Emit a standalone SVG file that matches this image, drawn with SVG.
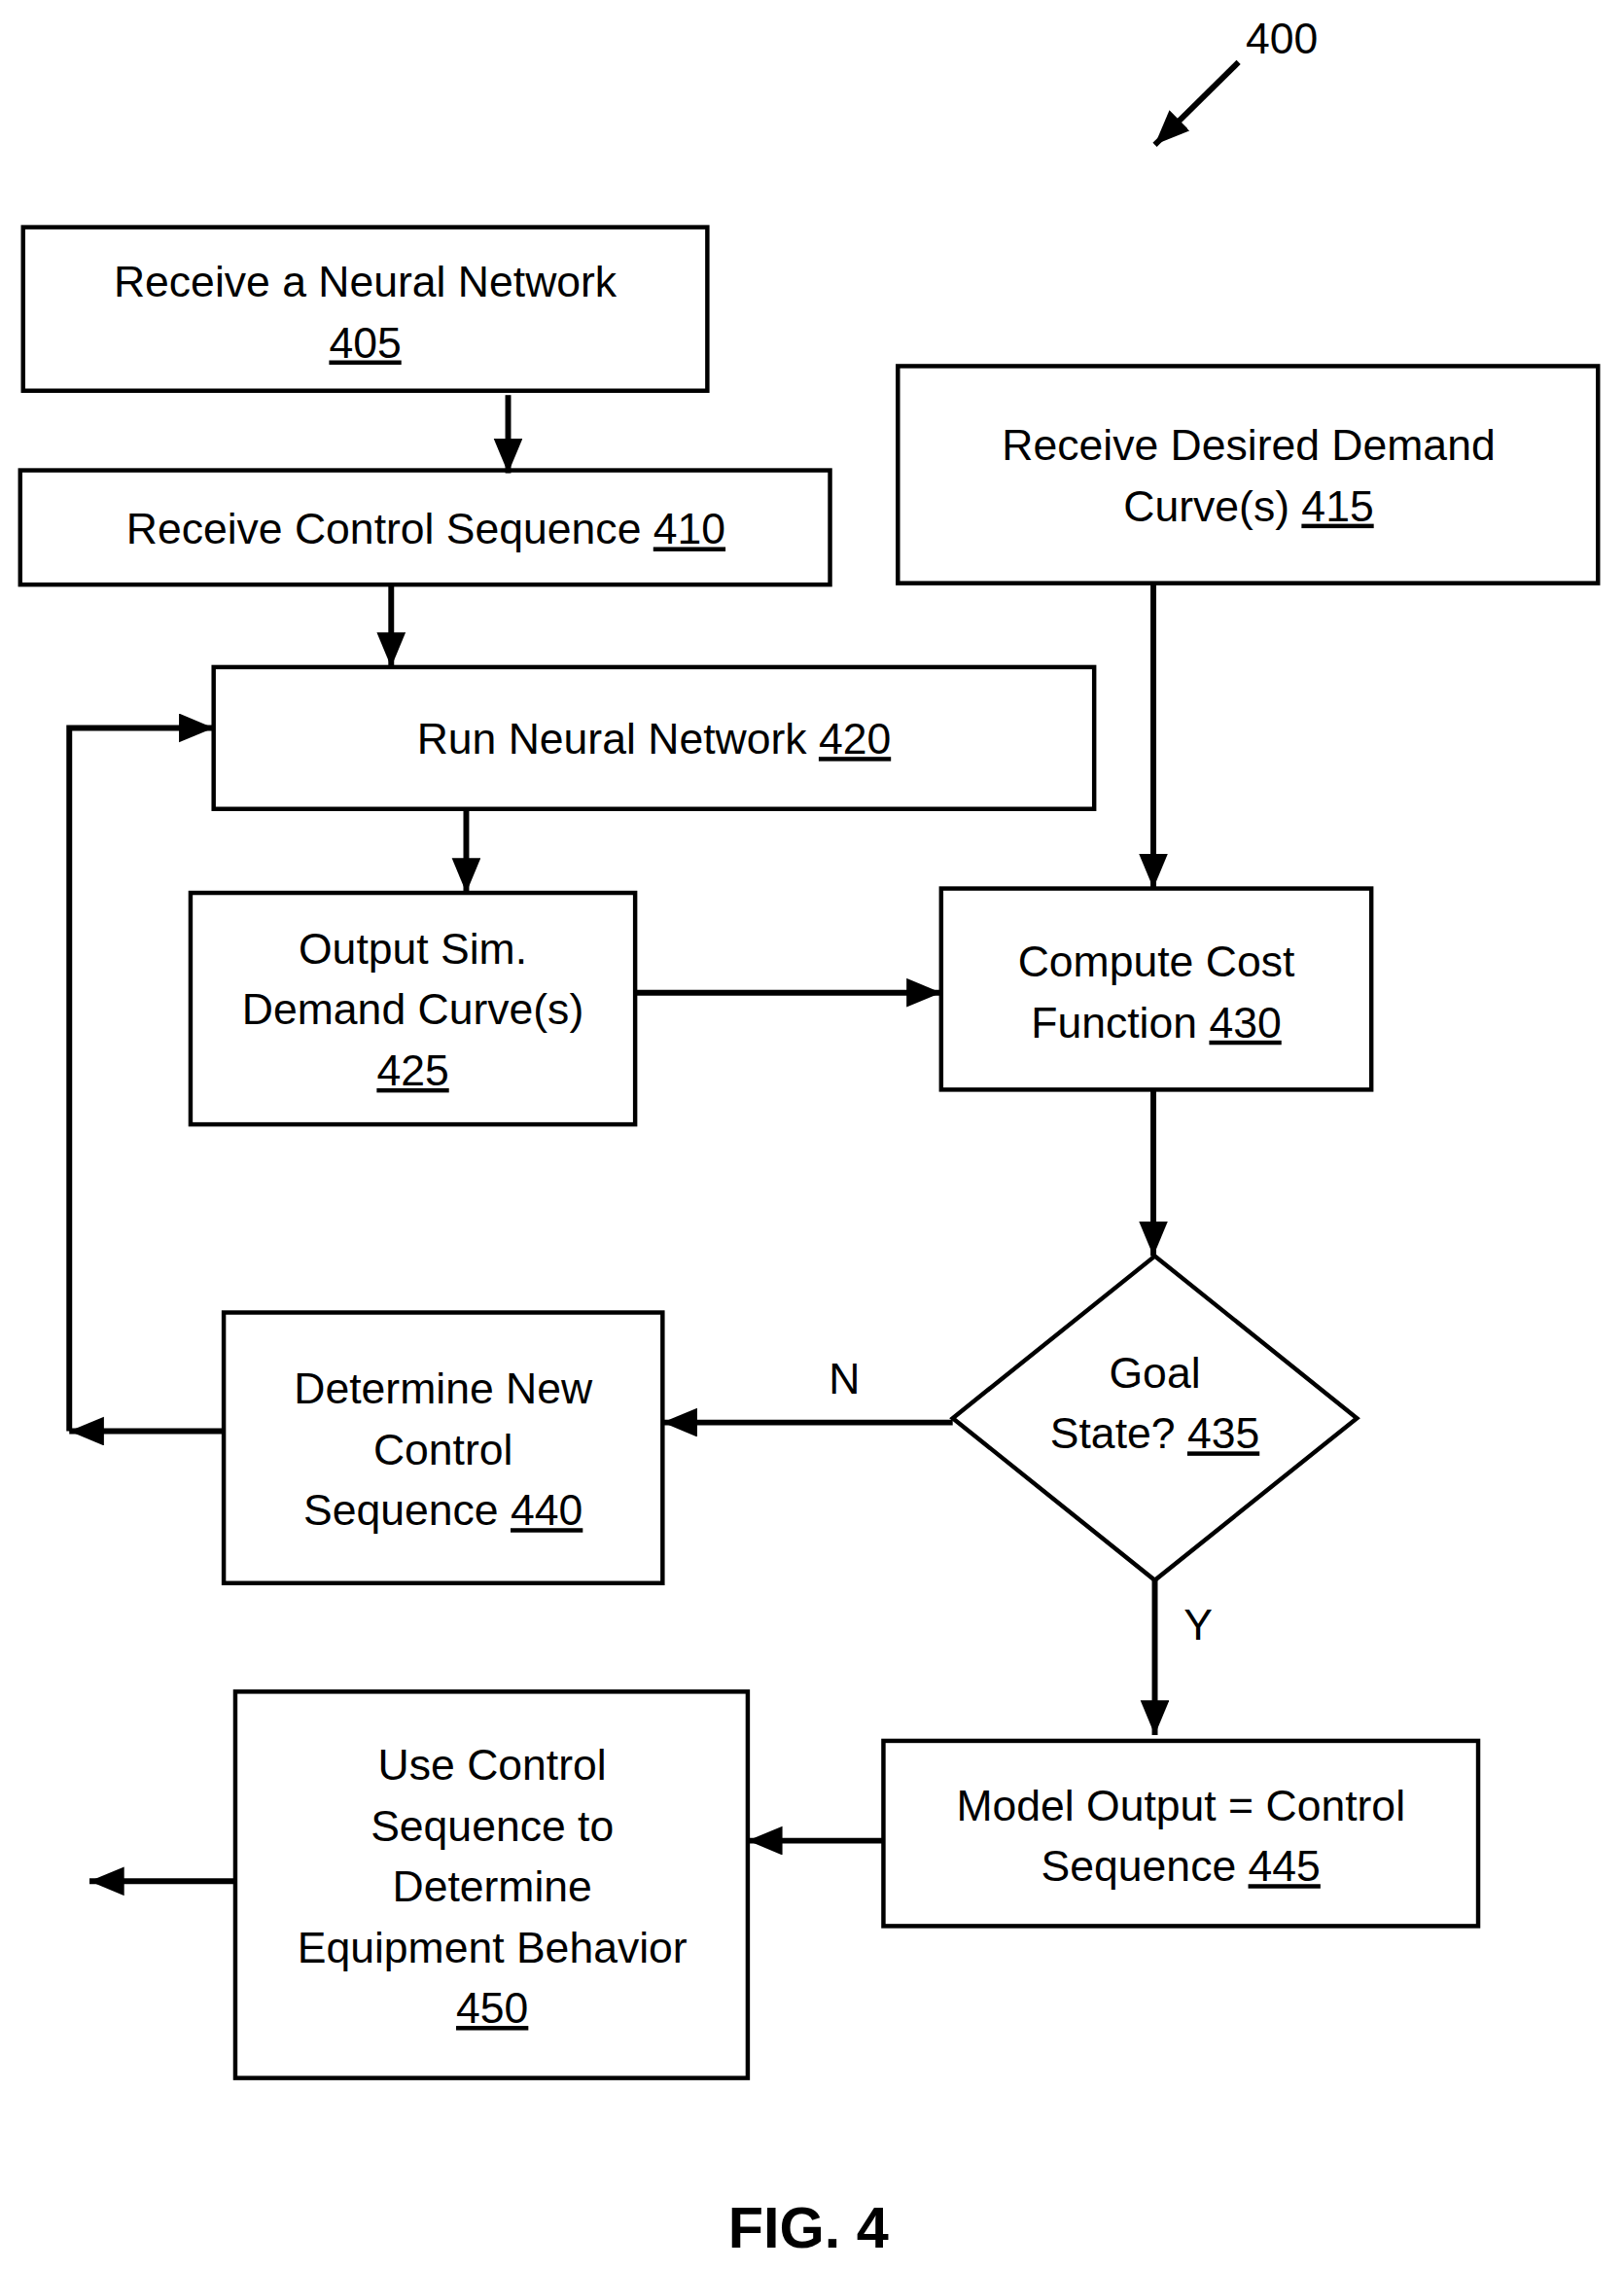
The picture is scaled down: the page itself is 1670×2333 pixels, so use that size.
<svg xmlns="http://www.w3.org/2000/svg" width="1670" height="2333" viewBox="0 0 1670 2333">
<style>
.b{fill:#fff;stroke:#000;stroke-width:3}
.t{font-family:"Liberation Sans",Arial,sans-serif;font-size:30px;text-anchor:middle;fill:#000}
.u{text-decoration:underline}
.c{fill:none;stroke:#000;stroke-width:4}
</style>
<defs>
<marker id="a" markerUnits="userSpaceOnUse" markerWidth="26" markerHeight="22" refX="24" refY="10" orient="auto"><path d="M0,0 L24,10 L0,20 z"/></marker>
</defs>
<rect width="1670" height="2333" fill="#fff"/>
<g transform="scale(1.4844,1.4879)">
<g id="n405"><rect class="b" x="16" y="157" width="474" height="113"/><text class="t" x="253" y="205">Receive a Neural Network</text><text class="t u" x="253" y="247">405</text></g>
<g id="n410"><rect class="b" x="14" y="325" width="561" height="79"/><text class="t" x="295" y="376">Receive Control Sequence <tspan class="u">410</tspan></text></g>
<g id="n415"><rect class="b" x="622" y="253" width="485" height="150"/><text class="t" x="865" y="318">Receive Desired Demand</text><text class="t" x="865" y="360">Curve(s) <tspan class="u">415</tspan></text></g>
<g id="n420"><rect class="b" x="148" y="461" width="610" height="98"/><text class="t" x="453" y="521">Run Neural Network <tspan class="u">420</tspan></text></g>
<g id="n425"><rect class="b" x="132" y="617" width="308" height="160"/><text class="t" x="286" y="666">Output Sim.</text><text class="t" x="286" y="708">Demand Curve(s)</text><text class="t u" x="286" y="750">425</text></g>
<g id="n430"><rect class="b" x="652" y="614" width="298" height="139"/><text class="t" x="801" y="675">Compute Cost</text><text class="t" x="801" y="717">Function <tspan class="u">430</tspan></text></g>
<g id="n435"><polygon class="b" points="800,868 940,980 800,1092 660,980"/><text class="t" x="800" y="959">Goal</text><text class="t" x="800" y="1001">State? <tspan class="u">435</tspan></text></g>
<g id="n440"><rect class="b" x="155" y="907" width="304" height="187"/><text class="t" x="307" y="970">Determine New</text><text class="t" x="307" y="1012">Control</text><text class="t" x="307" y="1054">Sequence <tspan class="u">440</tspan></text></g>
<g id="n445"><rect class="b" x="612" y="1203" width="412" height="128"/><text class="t" x="818" y="1258">Model Output = Control</text><text class="t" x="818" y="1300">Sequence <tspan class="u">445</tspan></text></g>
<g id="n450"><rect class="b" x="163" y="1169" width="355" height="267"/><text class="t" x="341" y="1230">Use Control</text><text class="t" x="341" y="1272">Sequence to</text><text class="t" x="341" y="1314">Determine</text><text class="t" x="341" y="1356">Equipment Behavior</text><text class="t u" x="341" y="1398">450</text></g>
<g id="connectors">
<line class="c" x1="352" y1="273" x2="352" y2="327" marker-end="url(#a)"/>
<line class="c" x1="271" y1="405" x2="271" y2="461" marker-end="url(#a)"/>
<line class="c" x1="799" y1="404" x2="799" y2="614" marker-end="url(#a)"/>
<line class="c" x1="323" y1="560" x2="323" y2="617" marker-end="url(#a)"/>
<line class="c" x1="441" y1="686" x2="652" y2="686" marker-end="url(#a)"/>
<line class="c" x1="799" y1="754" x2="799" y2="868" marker-end="url(#a)"/>
<line class="c" x1="660" y1="983" x2="459" y2="983" marker-end="url(#a)"/>
<line class="c" x1="155" y1="989" x2="48" y2="989" marker-end="url(#a)"/>
<polyline class="c" points="48,989 48,503 148,503" marker-end="url(#a)"/>
<line class="c" x1="800" y1="1092" x2="800" y2="1199" marker-end="url(#a)"/>
<line class="c" x1="612" y1="1272" x2="518" y2="1272" marker-end="url(#a)"/>
<line class="c" x1="163" y1="1300" x2="62" y2="1300" marker-end="url(#a)"/>
<line class="c" x1="858" y1="43" x2="800" y2="100" marker-end="url(#a)"/>
<text class="t" x="585" y="963">N</text>
<text class="t" x="830" y="1133">Y</text>
</g>
<text class="t" x="888" y="37">400</text>
<text class="t" x="560" y="1553" style="font-weight:bold;font-size:40px">FIG. 4</text>
</g>
</svg>
